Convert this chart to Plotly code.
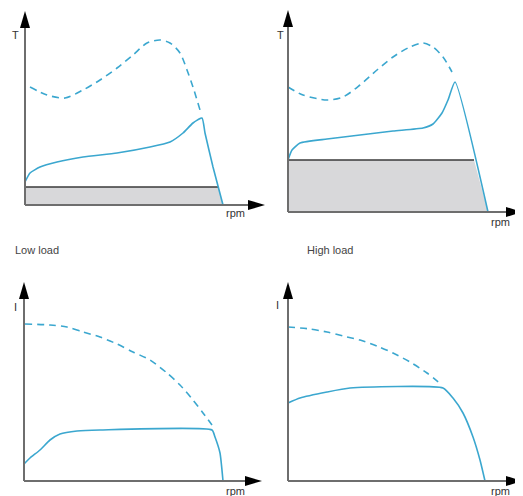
import plotly.graph_objects as go

# the page keeps the browser's 8px body margin, so the figure is drawn 8px in from the window corner
OFF = 8
W, H = 523 - OFF, 496 - OFF
BLUE = "#3ba7cf"
AXIS = "#6e6e6e"
FONT = "Liberation Sans, Arial, sans-serif"

# values, in panel units (1 unit ~ 1 px, origin at the axes corner)
# torque, low load
tl_max_x = [5, 22, 40, 58, 75, 92, 108, 122, 135, 145, 155, 162, 168, 175]
tl_max_y = [118, 110, 107, 115, 125, 137, 150, 162, 165, 162, 152, 135, 118, 95]
tl_x = [0, 5, 15, 32, 58, 92, 125, 145, 158, 168, 177, 180, 188, 198]
tl_y = [23, 32, 38, 43, 48, 52, 58, 63, 72, 82, 87, 72, 38, 0]
tl_load_x = [0, 0, 193, 198]
tl_load_y = [0, 18, 18, 0]

# torque, high load
th_max_x = [0, 15, 39, 55, 72, 89, 105, 122, 135, 145, 155, 164]
th_max_y = [125, 117, 112, 115, 127, 142, 155, 165, 169, 165, 155, 140]
th_x = [0, 4, 12, 39, 72, 105, 135, 145, 154, 160, 167, 200]
th_y = [52, 62, 69, 73, 77, 81, 84, 88, 99, 112, 130, 0]
th_load_x = [0, 0, 186, 200]
th_load_y = [0, 52, 52, 0]

# current, low load
il_max_x = [1, 26, 43, 59, 76, 93, 109, 126, 143, 156, 169, 179, 188]
il_max_y = [157, 156, 154, 149, 144, 137, 129, 121, 108, 96, 81, 68, 56]
il_x = [0, 6, 16, 26, 36, 53, 76, 188, 191, 196, 199]
il_y = [17, 23, 31, 41, 47, 50, 51, 51, 44, 28, 0]

# current, high load
ih_max_x = [0, 22, 39, 55, 72, 89, 105, 122, 139, 154]
ih_max_y = [154, 152, 149, 145, 141, 135, 128, 119, 108, 96]
ih_x = [0, 12, 39, 62, 155, 165, 175, 185, 192, 197]
ih_y = [78, 83, 89, 93, 93, 83, 68, 44, 21, 0]

# panel placement: axes corner and arrow tips, in window pixels
panels = [
    dict(ox=25, oy=205, tx=265, ty=11, ylab="T", yl=(-10, 170), rl=(210, -8)),
    dict(ox=288, oy=212, tx=523, ty=10, ylab="T", yl=(-8, 177), rl=(212, -10)),
    dict(ox=24, oy=481, tx=262, ty=282, ylab="I", yl=(-9, 174), rl=(211, -10)),
    dict(ox=288, oy=481, tx=523, ty=282, ylab="I", yl=(-11, 176), rl=(212, -10)),
]

series = [
    (tl_max_x, tl_max_y, tl_x, tl_y, tl_load_x, tl_load_y),
    (th_max_x, th_max_y, th_x, th_y, th_load_x, th_load_y),
    (il_max_x, il_max_y, il_x, il_y, None, None),
    (ih_max_x, ih_max_y, ih_x, ih_y, None, None),
]

fig = go.Figure()
shapes = []
annotations = []
pad = 14
head_len, head_half = 17, 5

for i, (p, s) in enumerate(zip(panels, series)):
    n = "" if i == 0 else str(i + 1)
    xa, ya = "x" + n, "y" + n
    mx, my, cx, cy, lx, ly = s
    ox, oy = p["ox"] - OFF, p["oy"] - OFF
    tx, ty = p["tx"] - OFF, p["ty"] - OFF
    if lx is not None:
        fig.add_trace(go.Scatter(x=lx, y=ly, fill="toself", fillcolor="#d8d8da",
                                 line=dict(width=0), mode="lines", xaxis=xa, yaxis=ya,
                                 showlegend=False, hoverinfo="skip"))
        fig.add_trace(go.Scatter(x=lx[1:3], y=ly[1:3], mode="lines",
                                 line=dict(color="#3a3a3a", width=1.5), xaxis=xa, yaxis=ya,
                                 showlegend=False, hoverinfo="skip"))
    fig.add_trace(go.Scatter(x=mx, y=my, mode="lines",
                             line=dict(color=BLUE, width=1.6, dash="7px,5px", shape="spline", smoothing=0.8),
                             xaxis=xa, yaxis=ya, showlegend=False, hoverinfo="skip"))
    fig.add_trace(go.Scatter(x=cx, y=cy, mode="lines",
                             line=dict(color=BLUE, width=1.6, shape="spline", smoothing=0.5),
                             xaxis=xa, yaxis=ya, showlegend=False, hoverinfo="skip"))

    xend = min(tx + 2, W)
    xlen = tx - ox
    ylen = oy - ty
    fig.update_layout(**{
        "xaxis" + n: dict(domain=[(ox - pad) / W, xend / W], range=[-pad, xend - ox],
                          visible=False, fixedrange=True),
        "yaxis" + n: dict(domain=[(H - oy - pad) / H, min(H - ty + 2, H) / H],
                          range=[-pad, min(ylen + 2, oy)], visible=False, fixedrange=True),
    })
    # axis lines
    shapes.append(dict(type="line", xref=xa, yref=ya, x0=0, y0=0, x1=xlen - head_len + 2, y1=0,
                       line=dict(color=AXIS, width=2)))
    shapes.append(dict(type="line", xref=xa, yref=ya, x0=0, y0=0, x1=0, y1=ylen - head_len + 2,
                       line=dict(color=AXIS, width=2)))
    # arrow heads
    shapes.append(dict(type="path", xref=xa, yref=ya, fillcolor="black", line=dict(width=0),
                       path=f"M{xlen},0 L{xlen - head_len},{head_half} L{xlen - head_len},{-head_half} Z"))
    shapes.append(dict(type="path", xref=xa, yref=ya, fillcolor="black", line=dict(width=0),
                       path=f"M0,{ylen} L{head_half},{ylen - head_len} L{-head_half},{ylen - head_len} Z"))
    annotations.append(dict(xref=xa, yref=ya, x=p["yl"][0], y=p["yl"][1], text=p["ylab"],
                            xanchor="center", showarrow=False, font=dict(size=11, color="#333")))
    annotations.append(dict(xref=xa, yref=ya, x=p["rl"][0], y=p["rl"][1], text="rpm",
                            xanchor="center", showarrow=False, font=dict(size=11, color="#333")))

annotations.append(dict(xref="paper", yref="paper", x=(37 - OFF) / W, y=1 - (250 - OFF) / H,
                        xanchor="center", yanchor="middle",
                        text="Low load", showarrow=False, font=dict(size=11, color="#444")))
annotations.append(dict(xref="paper", yref="paper", x=(330 - OFF) / W, y=1 - (250 - OFF) / H,
                        xanchor="center", yanchor="middle",
                        text="High load", showarrow=False, font=dict(size=11, color="#444")))

fig.update_layout(width=W, height=H, margin=dict(l=0, r=0, t=0, b=0),
                  paper_bgcolor="white", plot_bgcolor="white",
                  font=dict(family=FONT), shapes=shapes, annotations=annotations)

fig.write_html("out.html", config={"displayModeBar": False})
